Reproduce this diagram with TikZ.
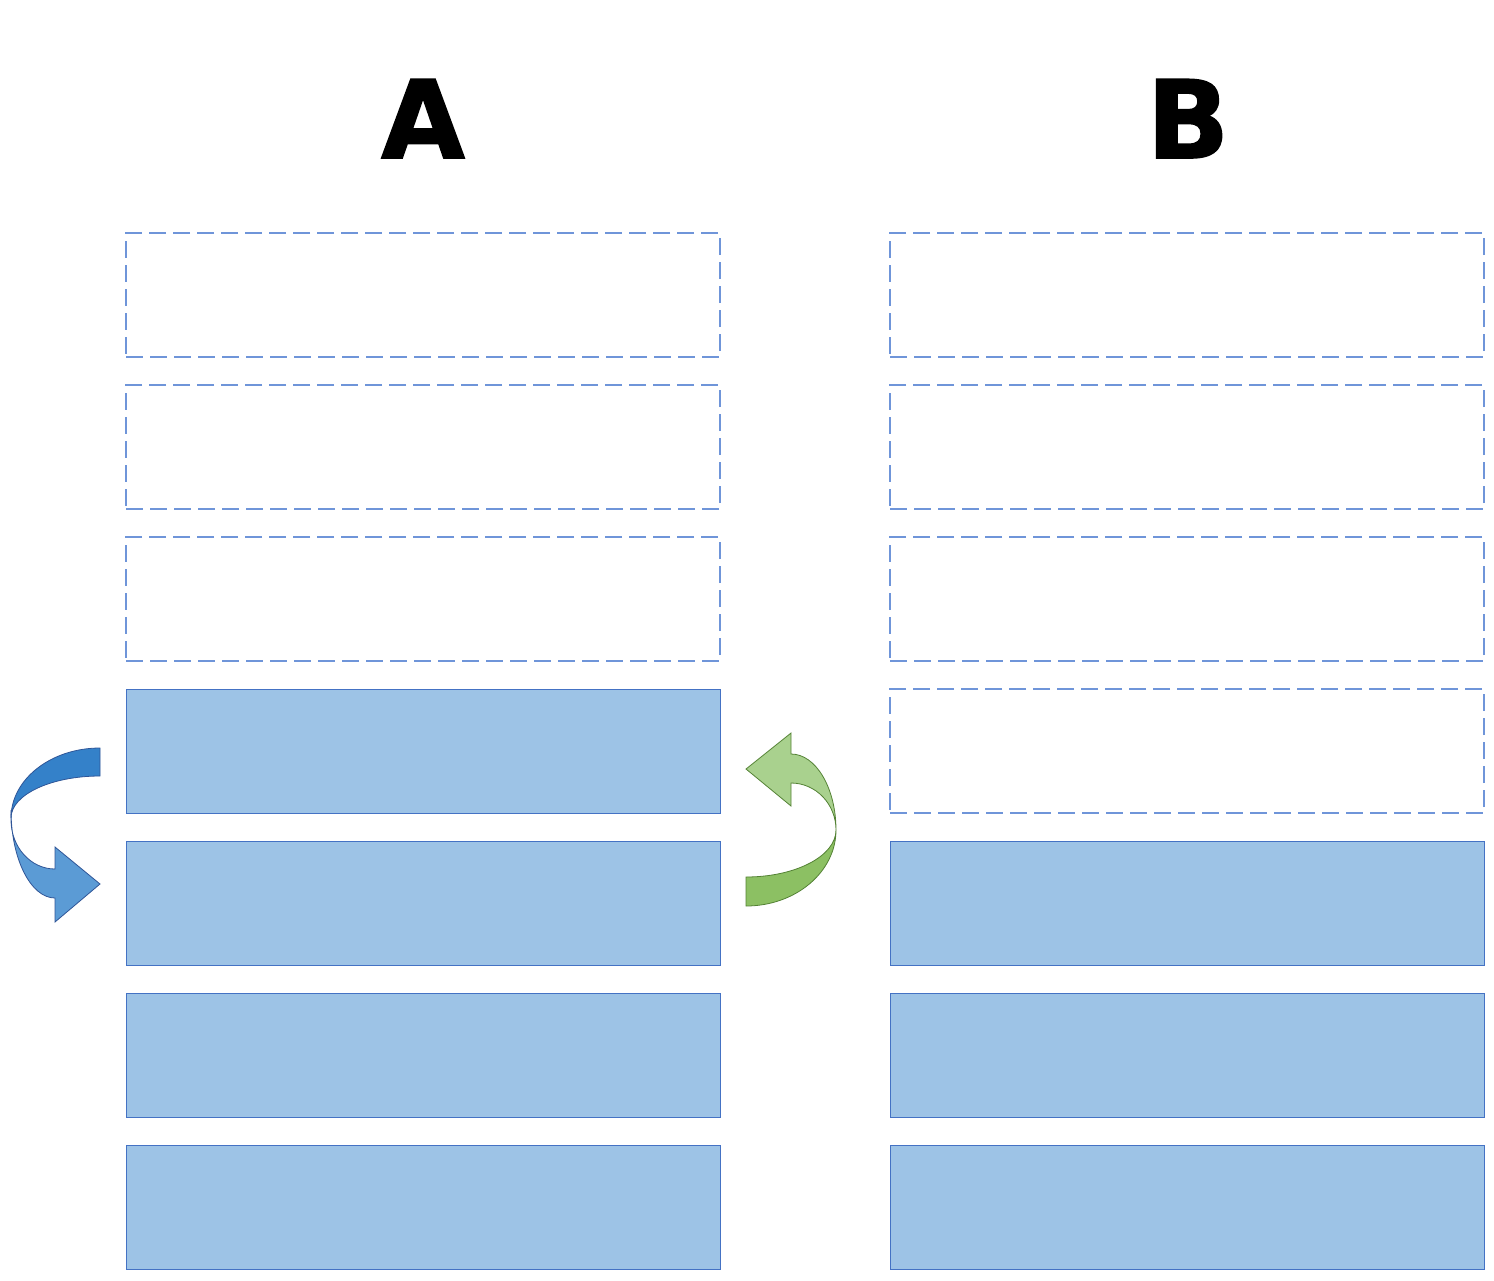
\documentclass[tikz,border=0pt]{standalone}
\usepackage{fontspec}
\setmainfont{DejaVu Sans}
\newfontfamily\headfont[FakeBold=1.5]{DejaVu Sans Bold}
\definecolor{fillblue}{HTML}{9DC3E6}
\definecolor{edgeblue}{HTML}{4472C4}
\definecolor{dashblue}{HTML}{6F95D9}
\definecolor{arrdark}{HTML}{3481C9}
\definecolor{arrlight}{HTML}{5B9BD5}
\definecolor{arredge}{HTML}{2F5597}
\definecolor{grdark}{HTML}{8CC063}
\definecolor{grlight}{HTML}{A9D18E}
\definecolor{gredge}{HTML}{548235}
\tikzset{
  slot/.style={draw=dashblue, line width=1.1pt, dash pattern=on 17pt off 7pt,
    minimum width=594pt, minimum height=124pt, inner sep=0pt, outer sep=0pt},
  filled/.style={draw=edgeblue, fill=fillblue, line width=1pt,
    minimum width=594pt, minimum height=124pt, inner sep=0pt, outer sep=0pt},
  heading/.style={font=\headfont\fontsize{108}{108}\selectfont, inner sep=0pt},
}
\begin{document}
\begin{tikzpicture}[x=1pt,y=-1pt]
\useasboundingbox (0,0) rectangle (1494,1280);
\node[heading, anchor=base] (labA) at (423,158) {A};
\node[heading, anchor=base] (labB) at (1188,158) {B};
% column A
\node[slot]   (a1) at (423,295) {};
\node[slot]   (a2) at (423,447) {};
\node[slot]   (a3) at (423,599) {};
\node[filled] (a4) at (423,751) {};
\node[filled] (a5) at (423,903) {};
\node[filled] (a6) at (423,1055) {};
\node[filled] (a7) at (423,1207) {};
% column B
\node[slot]   (b1) at (1187,295) {};
\node[slot]   (b2) at (1187,447) {};
\node[slot]   (b3) at (1187,599) {};
\node[slot]   (b4) at (1187,751) {};
\node[filled] (b5) at (1187,903) {};
\node[filled] (b6) at (1187,1055) {};
\node[filled] (b7) at (1187,1207) {};
% blue curved arrow
\draw[arredge, fill=arrdark, line width=0.8pt]
  (100,748) arc[start angle=270, end angle=180, x radius=89, y radius=70]
  arc[start angle=180, end angle=270, x radius=89, y radius=42] -- cycle;
\draw[arredge, fill=arrlight, line width=0.8pt]
  (11,810) arc[start angle=180, end angle=90, x radius=44, y radius=88]
  -- (55,922) -- (100,884) -- (55,847) -- (55,869)
  arc[start angle=90, end angle=180, x radius=44, y radius=49] -- cycle;
% green curved arrow
\draw[gredge, fill=grdark, line width=0.8pt]
  (746,906) arc[start angle=90, end angle=0, x radius=90, y radius=76]
  arc[start angle=0, end angle=90, x radius=90, y radius=47] -- cycle;
\draw[gredge, fill=grlight, line width=0.8pt]
  (836,830) arc[start angle=0, end angle=-90, x radius=45, y radius=76]
  -- (791,733) -- (746,769) -- (791,806) -- (791,783)
  arc[start angle=-90, end angle=0, x radius=45, y radius=47] -- cycle;
\end{tikzpicture}
\end{document}
